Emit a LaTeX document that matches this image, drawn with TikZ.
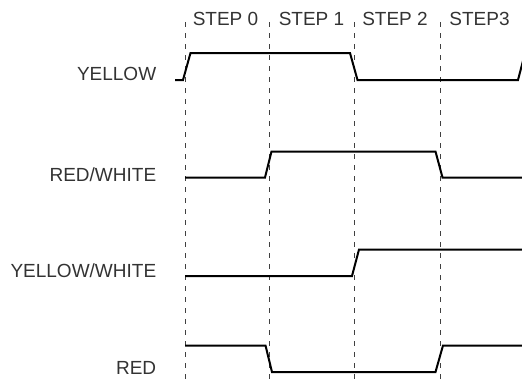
\documentclass[tikz,border=0pt]{standalone}
\usepackage{fontspec}
\setmainfont{Liberation Sans}
\usepackage{tikz}

\begin{document}
\begin{tikzpicture}[x=1pt,y=-1pt,font=\fontsize{19}{22}\selectfont,
                    semithick]
    \tikzstyle{signal}=[line width=2pt,line join=miter]
    \tikzstyle{grid}=[line width=0.8pt,dash pattern=on 5pt off 6pt,black!75]
    \tikzstyle{signame}=[anchor=base east,inner sep=0pt,text=black!80]
    \tikzstyle{phase}=[anchor=base,inner sep=0pt,text=black!80]

    \useasboundingbox (0,0) rectangle (522,383);

    \node[phase] (S0) at (225.5,25) {STEP 0};
    \node[phase] (S1) at (311.5,25) {STEP 1};
    \node[phase] (S2) at (395,25)   {STEP 2};
    \node[phase] (S3) at (479.5,25) {STEP3};

    \node[signame] (Y)  at (156.5,80)  {YELLOW};
    \node[signame] (RW) at (156.5,181) {RED/WHITE};
    \node[signame] (YW) at (156.5,277) {YELLOW/WHITE};
    \node[signame] (R)  at (156.5,374) {RED};

    \foreach \x in {185,269,354,440}
        \draw[grid] (\x,22) -- (\x,383);

    \draw[signal] (175,80) -- (183,80) -- (190.5,53) -- (350,53)
                  -- (357.5,80) -- (518,80) -- (524,57);
    \draw[signal] (185,177.5) -- (265,177.5) -- (271.5,151.5)
                  -- (435.5,151.5) -- (442.5,177.5) -- (522,177.5);
    \draw[signal] (185,276) -- (352,276) -- (359,249.5) -- (522,249.5);
    \draw[signal] (185,345.5) -- (265.5,345.5) -- (272,372)
                  -- (435.5,372) -- (443,345.5) -- (522,345.5);
\end{tikzpicture}
\end{document}
